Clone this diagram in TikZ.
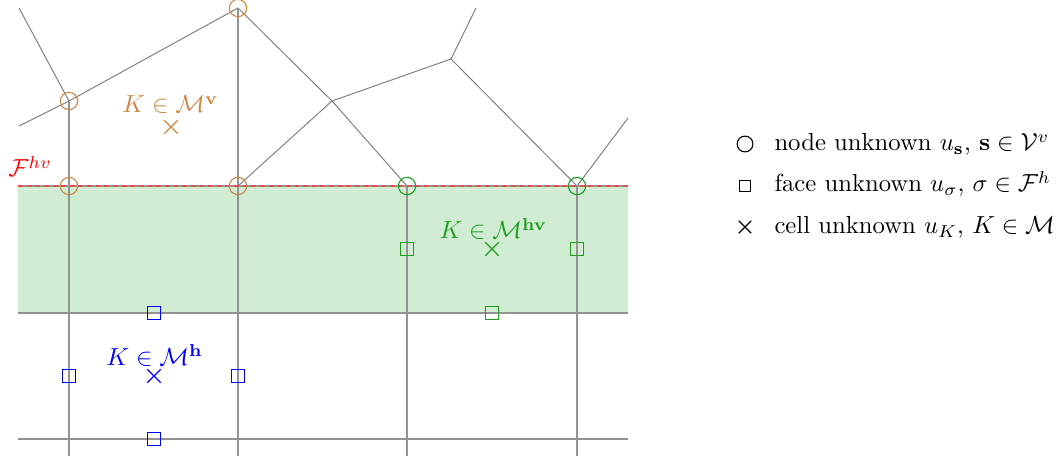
\documentclass[tikz,border=0pt]{standalone}
\usepackage{amsmath,amssymb}
\usetikzlibrary{shapes.misc}
\definecolor{vor}{RGB}{205,135,65}
\definecolor{hvg}{RGB}{30,160,30}
\definecolor{fillg}{RGB}{208,236,210}
\definecolor{hb}{RGB}{0,0,255}
\definecolor{dashred}{RGB}{225,80,80}
\begin{document}
\begin{tikzpicture}[x=0.405pt,y=-0.405pt,
  edge/.style={draw=gray, line width=0.4pt},
  grid/.style={draw=gray!85, line width=0.6pt},
  nodeunk/.style={circle, draw, minimum size=7pt, inner sep=0pt, line width=0.45pt},
  faceunk/.style={rectangle, draw, minimum size=5pt, inner sep=0pt, line width=0.45pt},
  cellunk/.style={cross out, draw, minimum size=5pt, inner sep=0pt, line width=0.45pt},
  lab/.style={anchor=base west, inner sep=0pt}]
\useasboundingbox (0,0) rectangle (1060,460);
% green band
\fill[fillg] (18,186) rectangle (628,313);
% coordinates of the mesh
\coordinate (a1) at (69,101);
\coordinate (a2) at (238,8);
\coordinate (b1) at (69,186);
\coordinate (b2) at (238,186);
\coordinate (b3) at (407,186);
\coordinate (b4) at (577,186);
\coordinate (p) at (332,101);
\coordinate (q) at (451,59);
\coordinate (e1) at (19,8);
\coordinate (e2) at (19,126);
\coordinate (e3) at (476,8);
\coordinate (e4) at (628,118);
\coordinate (l1) at (18,186);
\coordinate (r1) at (628,186);
\coordinate (l2) at (18,313);
\coordinate (r2) at (628,313);
\coordinate (l3) at (18,439);
\coordinate (r3) at (628,439);
\coordinate (d1) at (69,456);
\coordinate (d2) at (238,456);
\coordinate (d3) at (407,456);
\coordinate (d4) at (577,456);
% mesh lines
\draw[edge] (e1) -- (a1) -- (a2);
\draw[edge] (e2) -- (a1);
\draw[edge] (a2) -- (p) -- (b3);
\draw[edge] (p) -- (q) -- (e3);
\draw[edge] (q) -- (b4) -- (e4);
\draw[edge] (p) -- (b2);
\draw[grid] (a1) -- (d1);
\draw[grid] (a2) -- (d2);
\draw[grid] (b3) -- (d3);
\draw[grid] (b4) -- (d4);
\draw[grid] (l1) -- (r1);
\draw[grid] (l2) -- (r2);
\draw[grid] (l3) -- (r3);
\draw[dashred, line width=0.6pt, dash pattern=on 2pt off 1.5pt] (l1) -- (r1);
% node unknowns
\node[nodeunk, draw=vor] (n1) at (a1) {};
\node[nodeunk, draw=vor] (n2) at (a2) {};
\node[nodeunk, draw=vor] (n3) at (b1) {};
\node[nodeunk, draw=vor] (n4) at (b2) {};
\node[nodeunk, draw=hvg] (n5) at (b3) {};
\node[nodeunk, draw=hvg] (n6) at (b4) {};
% face unknowns
\node[faceunk, draw=hb] (f1) at (154,313) {};
\node[faceunk, draw=hb] (f2) at (69,376) {};
\node[faceunk, draw=hb] (f3) at (238,376) {};
\node[faceunk, draw=hb] (f4) at (154,439) {};
\node[faceunk, draw=hvg] (f5) at (407,249) {};
\node[faceunk, draw=hvg] (f6) at (577,249) {};
\node[faceunk, draw=hvg] (f7) at (492,313) {};
% cell unknowns
\node[cellunk, draw=vor] (c1) at (171,127) {};
\node[cellunk, draw=hb] (c2) at (154,376) {};
\node[cellunk, draw=hvg] (c3) at (492,249) {};
% labels
\node[lab, text=vor] (t1) at (122,113) {$K\in\mathcal{M}^{\mathbf{v}}$};
\node[lab, text=hb] (t2) at (106,365) {$K\in\mathcal{M}^{\mathbf{h}}$};
\node[lab, text=hvg] (t3) at (439,239) {$K\in\mathcal{M}^{\mathbf{hv}}$};
\node[lab, text=red] (t4) at (8,177) {$\mathcal{F}^{hv}$};
% legend
\node[nodeunk, minimum size=6.4pt] (g1) at (745,144) {};
\node[faceunk, minimum size=4.6pt] (g2) at (745,186) {};
\node[cellunk, minimum size=4.6pt] (g3) at (745,227) {};
\node[lab] (h1) at (774,151) {node unknown $u_{\mathbf{s}}$, $\mathbf{s}\in\mathcal{V}^v$};
\node[lab] (h2) at (774,192) {face unknown $u_{\sigma}$, $\sigma\in\mathcal{F}^h$};
\node[lab] (h3) at (774,234) {cell unknown $u_K$, $K\in\mathcal{M}$};
\end{tikzpicture}
\end{document}
